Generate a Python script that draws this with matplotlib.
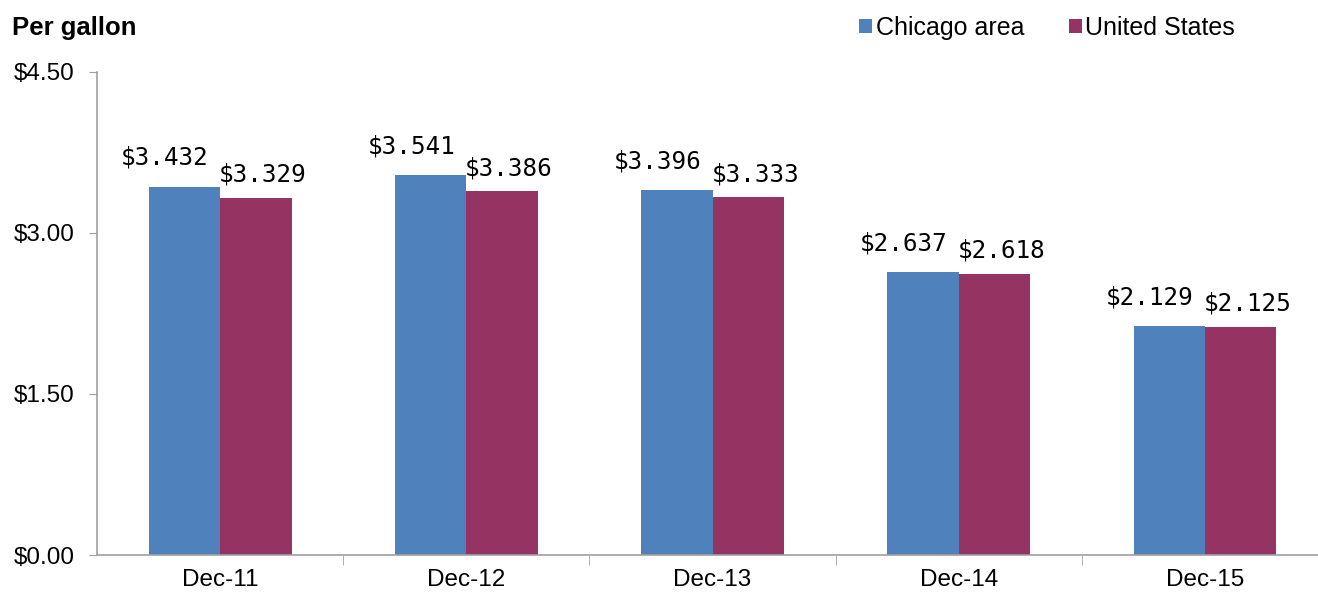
import matplotlib.pyplot as plt
import numpy as np

# gas price per gallon, December of each year
periods = ['Dec-11', 'Dec-12', 'Dec-13', 'Dec-14', 'Dec-15']
chicago = [3.432, 3.541, 3.396, 2.637, 2.129]
us = [3.329, 3.386, 3.333, 2.618, 2.125]
yticks = [0, 1.5, 3.0, 4.5]

blue = '#4F81BD'
maroon = '#953462'
axis_gray = '#A0A0A0'

fig = plt.figure(figsize=(13.18, 5.95), dpi=100)
ax = fig.add_axes([0.0736, 0.0672, 0.934, 0.812])

x = np.arange(len(periods))
w = 0.29
b1 = ax.bar(x - w / 2, chicago, w, color=blue, label='Chicago area')
b2 = ax.bar(x + w / 2, us, w, color=maroon, label='United States')

for rect, v in zip(b1, chicago):
    ax.annotate(f'${v:.3f}', (rect.get_x() + rect.get_width() / 2, v),
                xytext=(-14, 12), textcoords='offset points', ha='center', va='bottom',
                fontsize=17.5, family='DejaVu Sans Mono', fontweight='light')
for rect, v in zip(b2, us):
    ax.annotate(f'${v:.3f}', (rect.get_x() + rect.get_width() / 2, v),
                xytext=(5, 8), textcoords='offset points', ha='center', va='bottom',
                fontsize=17.5, family='DejaVu Sans Mono', fontweight='light')

ax.set_xlim(-0.5, len(periods) - 0.5)
ax.set_ylim(0, 4.5)
ax.set_yticks(yticks)
ax.set_yticklabels([f'${t:.2f}' for t in yticks], family='Liberation Sans', fontsize=17.5)
ax.set_xticks(x)
ax.set_xticklabels(periods, family='Liberation Sans', fontsize=17.5)
ax.tick_params(axis='x', length=0, pad=10)
ax.set_xticks(np.arange(0.5, len(periods) - 0.5), minor=True)
ax.tick_params(axis='x', which='minor', length=7, color=axis_gray, direction='out')
ax.tick_params(axis='y', length=6, color=axis_gray, pad=10)

for s in ['top', 'right']:
    ax.spines[s].set_visible(False)
for s in ['left', 'bottom']:
    ax.spines[s].set_color(axis_gray)
    ax.spines[s].set_linewidth(1.2)

fig.text(0.009, 0.953, 'Per gallon', fontsize=18.5, fontweight='bold',
         family='Liberation Sans', ha='left', va='center')

fig.legend(handles=[b1, b2], loc='center left', bbox_to_anchor=(0.652, 0.953), ncol=2,
           frameon=False, prop={'family': 'Liberation Sans', 'size': 18},
           handlelength=0.5, handleheight=0.5, handletextpad=0.15, columnspacing=1.8,
           borderaxespad=0, borderpad=0)

fig.savefig('out.png', dpi=100)
